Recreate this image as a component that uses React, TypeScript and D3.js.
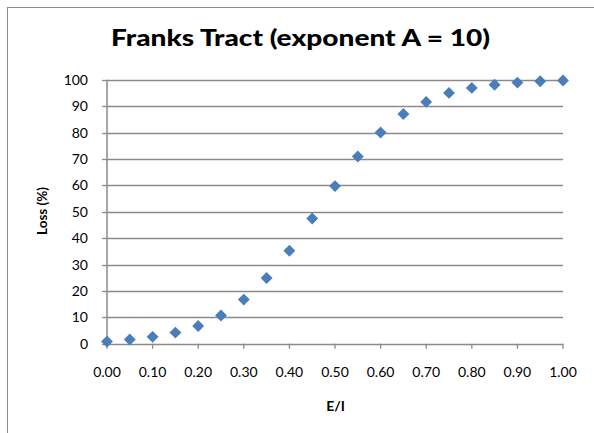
import React from "react";
import * as d3 from "d3";

// E/I ratio and modelled loss (%)
const ratio = [0, 0.05, 0.1, 0.15, 0.2, 0.25, 0.3, 0.35, 0.4, 0.45, 0.5, 0.55, 0.6, 0.65, 0.7, 0.75, 0.8, 0.85, 0.9, 0.95, 1.0];
const loss = [0.8, 1.6, 2.6, 4.2, 6.7, 10.7, 16.7, 24.9, 35.2, 47.4, 59.7, 70.9, 80.0, 87.0, 91.6, 95.0, 96.9, 98.1, 98.9, 99.4, 99.7];
const xTicks = [0, 0.1, 0.2, 0.3, 0.4, 0.5, 0.6, 0.7, 0.8, 0.9, 1.0];
const yTicks = [0, 10, 20, 30, 40, 50, 60, 70, 80, 90, 100];

const W = 594;
const H = 433;
const FONT = "Lato, 'Open Sans', sans-serif";

export default function App() {
  const x = d3.scaleLinear().domain([0, 1]).range([107, 563]);
  const y = d3.scaleLinear().domain([0, 100]).range([343.7, 79.7]);
  const grid = "#8a8a8a";
  const diamond = d3.symbol().type(d3.symbolDiamond2).size(90);

  return (
    <svg width={W} height={H} style={{ position: "absolute", left: 0, top: 0 }}>
      <rect x={0} y={0} width={W} height={H} fill="#fff" />
      <rect x={7.5} y={7.5} width={W + 10} height={H + 10} fill="#fff" stroke="#8c8c8c" strokeWidth={1} />
      <text x={111} y={46} textLength={379} lengthAdjust="spacingAndGlyphs" fontFamily={FONT} fontWeight={900} fontSize={23} fill="#000">
        Franks Tract (exponent A = 10)
      </text>
      {yTicks.map((t) => (
        <g key={"y" + t}>
          {t > 0 && <line x1={x(0)} x2={x(1)} y1={Math.round(y(t)) + 0.5} y2={Math.round(y(t)) + 0.5} stroke={grid} strokeWidth={1.3} />}
          <line x1={x(0) - 5} x2={x(0)} y1={Math.round(y(t)) + 0.5} y2={Math.round(y(t)) + 0.5} stroke={grid} strokeWidth={1.3} />
          <text x={88} y={y(t) + 5} textAnchor="end" fontFamily={FONT} fontSize={14} fill="#000">
            {t}
          </text>
        </g>
      ))}
      <line x1={x(0)} x2={x(0)} y1={y(100)} y2={y(0)} stroke={grid} strokeWidth={1.5} />
      <line x1={x(0)} x2={x(1)} y1={Math.round(y(0)) + 0.5} y2={Math.round(y(0)) + 0.5} stroke={grid} strokeWidth={1.5} />
      {xTicks.map((t) => (
        <g key={"x" + t}>
          <line x1={x(t)} x2={x(t)} y1={y(0)} y2={y(0) + 5} stroke={grid} strokeWidth={1.3} />
          <text x={x(t)} y={377} textAnchor="middle" fontFamily={FONT} fontSize={14} fill="#000">
            {d3.format(".2f")(t)}
          </text>
        </g>
      ))}
      <text x={335.5} y={410.5} textAnchor="middle" fontFamily={FONT} fontWeight={700} fontSize={14} fill="#000">
        E/I
      </text>
      <text transform={`translate(46.5,211) rotate(-90)`} textAnchor="middle" fontFamily={FONT} fontWeight={700} fontSize={13.5} fill="#000">
        Loss (%)
      </text>
      {ratio.map((r, i) => (
        <path key={"p" + i} d={diamond() as string} transform={`translate(${x(r)},${y(loss[i])})`} fill="#4a7ebb" />
      ))}
    </svg>
  );
}
